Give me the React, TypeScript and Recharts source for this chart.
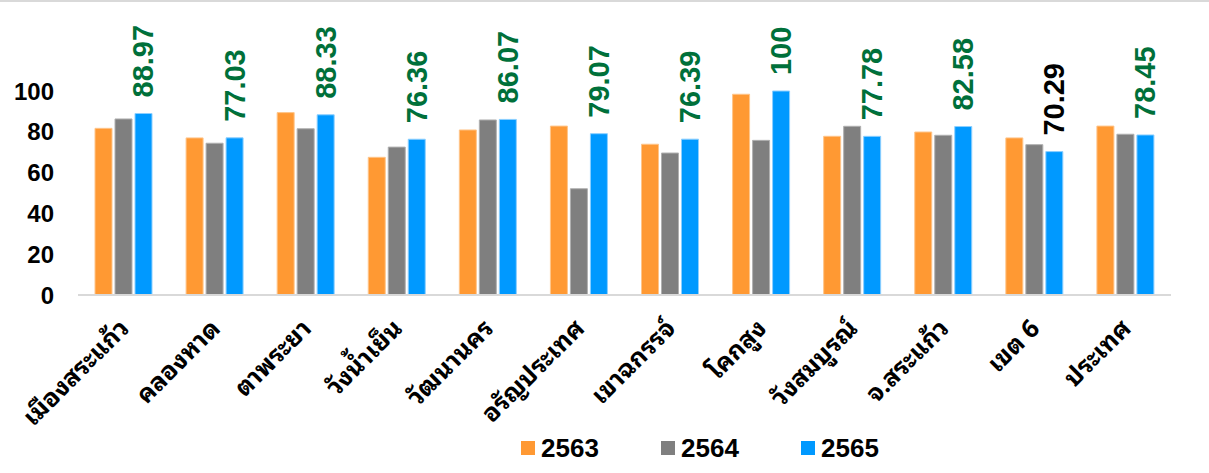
import { BarChart, Bar, XAxis, YAxis, Legend, LabelList } from 'recharts'

const categories = [
  'เมืองสระแก้ว',
  'คลองหาด',
  'ตาพระยา',
  'วังน้ำเย็น',
  'วัฒนานคร',
  'อรัญประเทศ',
  'เขาฉกรรจ์',
  'โคกสูง',
  'วังสมบูรณ์',
  'จ.สระแก้ว',
  'เขต 6',
  'ประเทศ',
]
const values2563 = [81.7, 77.0, 89.4, 67.5, 80.9, 82.8, 73.9, 98.4, 77.8, 79.9, 77.0, 82.8]
const values2564 = [86.3, 74.4, 81.5, 72.5, 85.8, 52.1, 69.6, 75.8, 82.7, 78.3, 73.7, 78.8]
const values2565 = [88.97, 77.03, 88.33, 76.36, 86.07, 79.07, 76.39, 100, 77.78, 82.58, 70.29, 78.45]
const yTicks = [0, 20, 40, 60, 80, 100]
const seriesNames = ['2563', '2564', '2565']
// label of this category is drawn in black, the rest in green
const blackLabelCategory = 'เขต 6'

const colors = ['#FF9933', '#7F7F7F', '#0099FF']
const numFont = '"Liberation Sans", Arial, sans-serif'
const thaiFont = 'Tahoma, "Noto Sans Thai Looped", "Noto Sans Thai", "Noto Sans", sans-serif'

const data = categories.map((name, i) => ({
  name,
  y2563: values2563[i],
  y2564: values2564[i],
  y2565: values2565[i],
}))

function XTick({ x, y, payload }: any) {
  const px = x + 7
  const py = y + 27
  return (
    <text
      x={px}
      y={py}
      transform={`rotate(-45 ${px} ${py})`}
      textAnchor="end"
      fontFamily={thaiFont}
      fontSize={25}
      fontWeight="bold"
      fill="#000"
    >
      {payload.value}
    </text>
  )
}

function ValueLabel({ x, y, width, value, index }: any) {
  const cx = x + width / 2
  const cy = y - 16
  const fill = categories[index] === blackLabelCategory ? '#000000' : '#00703A'
  return (
    <text
      x={cx}
      y={cy}
      transform={`rotate(-90 ${cx} ${cy})`}
      textAnchor="start"
      dominantBaseline="central"
      fontFamily={numFont}
      fontSize={29}
      fontWeight="bold"
      fill={fill}
    >
      {value}
    </text>
  )
}

function LegendContent() {
  return (
    <div style={{ display: 'flex', paddingLeft: 521, height: 50, alignItems: 'center' }}>
      {seriesNames.map((s, i) => (
        <div key={s} style={{ display: 'flex', alignItems: 'center', width: 140 }}>
          <span style={{ width: 14, height: 14, background: colors[i], marginRight: 6 }} />
          <span style={{ fontFamily: numFont, fontWeight: 'bold', fontSize: 26, color: '#000', lineHeight: '26px' }}>
            {s}
          </span>
        </div>
      ))}
    </div>
  )
}

export default function App() {
  return (
    <div style={{ position: 'absolute', left: 0, top: 0, width: 1209, height: 473, background: '#fff' }}>
      <div style={{ position: 'absolute', left: 0, top: 0, width: 1209, height: 2, background: '#D9D9D9' }} />
      <BarChart
        width={1209}
        height={473}
        data={data}
        margin={{ top: 91, right: 38, left: 0, bottom: 0 }}
        barSize={17}
        barGap={3}
      >
        <XAxis
          dataKey="name"
          interval={0}
          height={128}
          tickLine={false}
          axisLine={{ stroke: '#D9D9D9', strokeWidth: 2 }}
          tick={<XTick />}
        />
        <YAxis
          width={78}
          domain={[0, 100]}
          ticks={yTicks}
          axisLine={false}
          tickLine={false}
          tickMargin={18}
          tick={{ fontFamily: numFont, fontSize: 24, fontWeight: 'bold', fill: '#000' }}
        />
        <Legend
          verticalAlign="bottom"
          wrapperStyle={{ left: 0, width: 1209 }}
          content={<LegendContent />}
        />
        <Bar dataKey="y2563" fill={colors[0]} stroke="#FFC58A" strokeWidth={1} isAnimationActive={false} />
        <Bar dataKey="y2564" fill={colors[1]} stroke="#B0B0B0" strokeWidth={1} isAnimationActive={false} />
        <Bar dataKey="y2565" fill={colors[2]} stroke="#8CCFFF" strokeWidth={1} isAnimationActive={false}>
          <LabelList dataKey="y2565" content={<ValueLabel />} />
        </Bar>
      </BarChart>
    </div>
  )
}
